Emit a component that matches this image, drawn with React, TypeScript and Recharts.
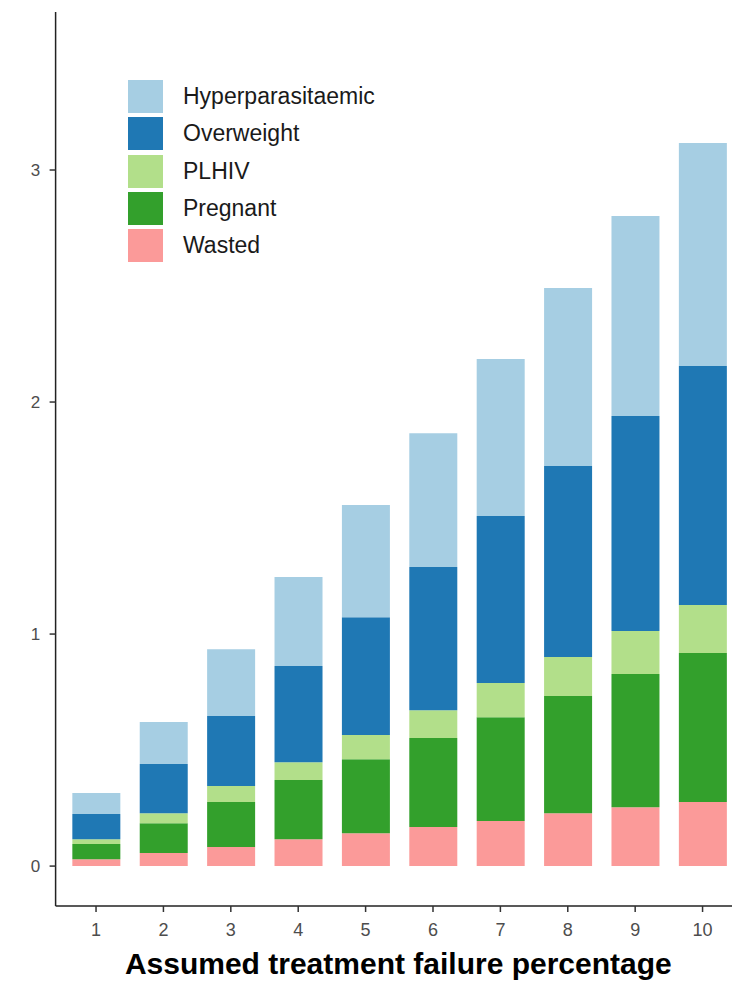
import React from "react";
import { BarChart, Bar, XAxis, YAxis, Legend } from "recharts";

const categories = [1, 2, 3, 4, 5, 6, 7, 8, 9, 10];
const wasted = [0.03, 0.056, 0.082, 0.116, 0.142, 0.168, 0.194, 0.228, 0.254, 0.276];
const pregnant = [0.065, 0.129, 0.194, 0.255, 0.319, 0.384, 0.448, 0.505, 0.574, 0.642];
const plhiv = [0.021, 0.043, 0.069, 0.077, 0.104, 0.12, 0.147, 0.168, 0.185, 0.207];
const overweight = [0.108, 0.212, 0.302, 0.414, 0.508, 0.617, 0.72, 0.823, 0.927, 1.03];
const hyper = [0.091, 0.181, 0.288, 0.384, 0.483, 0.577, 0.676, 0.767, 0.862, 0.961];
const yTicks = [0, 1, 2, 3];

const seriesNames = ["Wasted", "Pregnant", "PLHIV", "Overweight", "Hyperparasitaemic"];
const seriesKeys = ["wasted", "pregnant", "plhiv", "overweight", "hyper"];
const seriesColors = ["#FB9A99", "#33A02C", "#B2DF8A", "#1F78B4", "#A6CEE3"];

const data = categories.map((c, i) => ({
  x: c,
  wasted: wasted[i],
  pregnant: pregnant[i],
  plhiv: plhiv[i],
  overweight: overweight[i],
  hyper: hyper[i],
}));

const FONT = "'Liberation Sans', Arial, sans-serif";

const LegendBox = () => (
  <div style={{ fontFamily: FONT }}>
    {[4, 3, 2, 1, 0].map((i) => (
      <div key={i} style={{ display: "flex", alignItems: "center", height: 37.3 }}>
        <div style={{ width: 35, height: 33, background: seriesColors[i] }} />
        <span style={{ marginLeft: 20, fontSize: 23, color: "#1a1a1a", lineHeight: "1" }}>
          {seriesNames[i]}
        </span>
      </div>
    ))}
  </div>
);

const XTitle = (props: any) => {
  const vb = props.viewBox || {};
  return (
    <text
      x={vb.x + vb.width / 2 - 1}
      y={974}
      textAnchor="middle"
      fontFamily={FONT}
      fontWeight="bold"
      fontSize={30}
      fill="#000"
    >
      Assumed treatment failure percentage
    </text>
  );
};

export default function App() {
  return (
    <div
      style={{
        position: "absolute",
        left: 0,
        top: 0,
        width: 732,
        height: 981,
        overflow: "hidden",
        background: "#fff",
      }}
    >
      <BarChart
        width={745}
        height={981}
        data={data}
        barSize={48}
        margin={{ top: 12, right: 2, bottom: 0, left: 0 }}
      >
        <XAxis
          dataKey="x"
          type="number"
          domain={[0.4, 10.6]}
          allowDataOverflow
          ticks={categories}
          interval={0}
          height={75}
          tickSize={6}
          tickMargin={11}
          axisLine={{ stroke: "#222", strokeWidth: 1.5 }}
          tickLine={{ stroke: "#333", strokeWidth: 1.5 }}
          tick={{ fontSize: 18, fill: "#4d4d4d", fontFamily: FONT }}
          label={{ content: XTitle }}
        />
        <YAxis
          type="number"
          domain={[-0.172, 3.681]}
          allowDataOverflow
          ticks={yTicks}
          interval={0}
          width={55.6}
          tickSize={6}
          tickMargin={9.5}
          axisLine={{ stroke: "#222", strokeWidth: 1.5 }}
          tickLine={{ stroke: "#333", strokeWidth: 1.5 }}
          tick={{ fontSize: 17, fill: "#4d4d4d", fontFamily: FONT }}
        />
        <Legend
          layout="vertical"
          align="center"
          verticalAlign="middle"
          content={<LegendBox />}
          wrapperStyle={{ left: 128, top: 78, width: 260 }}
        />
        {seriesKeys.map((k, i) => (
          <Bar
            key={k}
            dataKey={k}
            name={seriesNames[i]}
            stackId="a"
            fill={seriesColors[i]}
            isAnimationActive={false}
          />
        ))}
      </BarChart>
    </div>
  );
}
